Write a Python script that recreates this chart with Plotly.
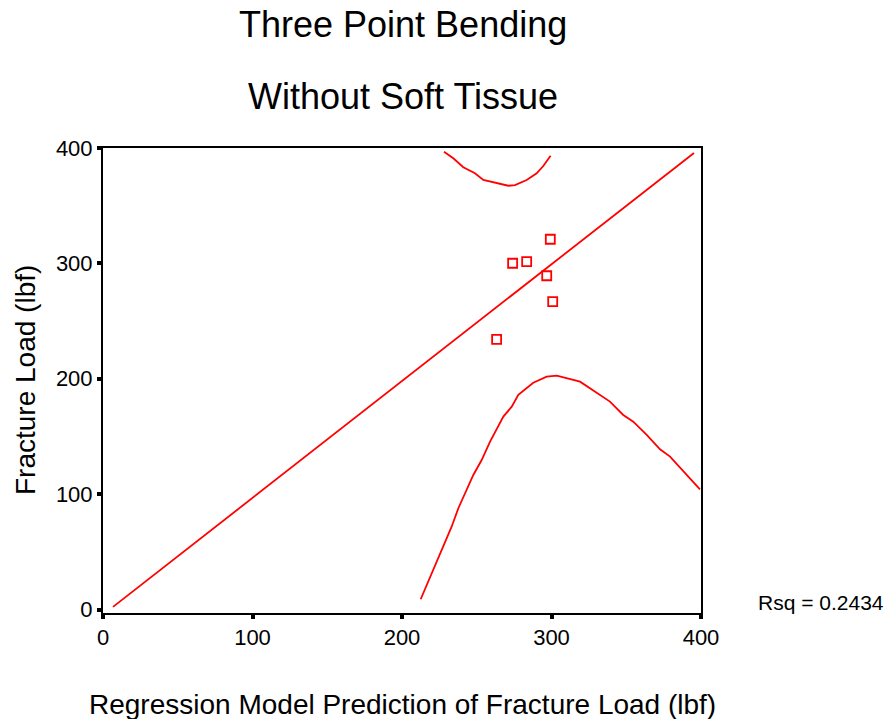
import plotly.graph_objects as go

# Observed specimens: model prediction vs measured fracture load (lbf)
pred_x = [263.3, 274.0, 283.4, 296.8, 299.2, 300.8]
load_y = [234.2, 300.1, 301.5, 289.3, 320.9, 266.8]

# Fitted regression line end points
fit_x = [6.7, 395.3]
fit_y = [2.3, 395.7]

# Upper prediction band
upper_x = [228.1, 234.3, 241.0, 245.5, 248.8, 254.4, 263.3, 271.1, 275.6, 283.4, 290.1, 294.5, 299.4]
upper_y = [396.8, 391.1, 383.3, 380.1, 378.1, 372.3, 369.4, 367.3, 367.9, 372.3, 378.1, 384.4, 393.3]

# Lower prediction band
lower_x = [212.5, 220.9, 225.4, 233.2, 237.7, 247.7, 253.3, 258.9, 267.8, 273.4, 277.8, 287.8,
           296.8, 303.5, 319.1, 332.4, 339.1, 348.0, 354.7, 363.7, 372.6, 379.3, 388.2, 392.7, 399.3]
lower_y = [8.9, 34.3, 48.8, 71.8, 87.8, 116.6, 129.6, 145.5, 167.2, 175.8, 186.0, 196.6,
           201.8, 202.7, 197.5, 186.0, 180.2, 168.6, 162.8, 151.3, 138.9, 132.5, 119.5, 113.8, 104.2]

x_ticks = [0, 100, 200, 300, 400]
y_ticks = [0, 100, 200, 300, 400]

RED = "#ff0000"
FONT = "Liberation Sans, Arial, sans-serif"

fig = go.Figure()
fig.add_trace(go.Scatter(x=fit_x, y=fit_y, mode="lines",
                         line=dict(color=RED, width=1.8), hoverinfo="skip"))
fig.add_trace(go.Scatter(x=upper_x, y=upper_y, mode="lines",
                         line=dict(color=RED, width=1.8), hoverinfo="skip"))
fig.add_trace(go.Scatter(x=lower_x, y=lower_y, mode="lines",
                         line=dict(color=RED, width=1.8), hoverinfo="skip"))
fig.add_trace(go.Scatter(x=pred_x, y=load_y, mode="markers",
                         marker=dict(symbol="square-open", size=9, color=RED,
                                     line=dict(color=RED, width=1.8))))

axis_common = dict(showgrid=False, zeroline=False, showline=True, linecolor="black",
                   linewidth=2, mirror=True, ticks="outside", ticklen=4, tickwidth=4,
                   tickcolor="black", tickfont=dict(family=FONT, size=22, color="black"))

fig.update_xaxes(range=[0, 400], tickvals=x_ticks, ticktext=[str(v) for v in x_ticks],
                 **axis_common)
fig.update_yaxes(range=[-3, 400], tickvals=y_ticks, ticktext=[str(v) for v in y_ticks],
                 **axis_common)

W, H = 886, 719
L, R, T, B = 103, 185, 148, 106
pw, ph = W - L - R, H - T - B


def px_to_paper(px, py):
    return (px - L) / pw, (H - B - py) / ph


annotations = []
for text, cy in [("Three Point Bending", 24), ("Without Soft Tissue", 96)]:
    xp, yp = px_to_paper(403, cy)
    annotations.append(dict(text=text, x=xp, y=yp, xref="paper", yref="paper",
                            xanchor="center", yanchor="middle", showarrow=False,
                            font=dict(family=FONT, size=36, color="black")))

xp, yp = px_to_paper(402, 704)
annotations.append(dict(text="Regression Model Prediction of Fracture Load (lbf)",
                        x=xp, y=yp, xref="paper", yref="paper", xanchor="center",
                        yanchor="middle", showarrow=False,
                        font=dict(family=FONT, size=28, color="black")))

xp, yp = px_to_paper(25, 380)
annotations.append(dict(text="Fracture Load (lbf)", x=xp, y=yp, xref="paper", yref="paper",
                        xanchor="center", yanchor="middle", textangle=-90, showarrow=False,
                        font=dict(family=FONT, size=28, color="black")))

xp, yp = px_to_paper(756, 602)
annotations.append(dict(text="Rsq = 0.2434", x=xp, y=yp, xref="paper", yref="paper",
                        xanchor="left", yanchor="middle", showarrow=False,
                        font=dict(family=FONT, size=21, color="black")))

fig.update_layout(width=W, height=H, margin=dict(l=L, r=R, t=T, b=B),
                  paper_bgcolor="white", plot_bgcolor="white", showlegend=False,
                  annotations=annotations)

fig.write_html("out.html")
